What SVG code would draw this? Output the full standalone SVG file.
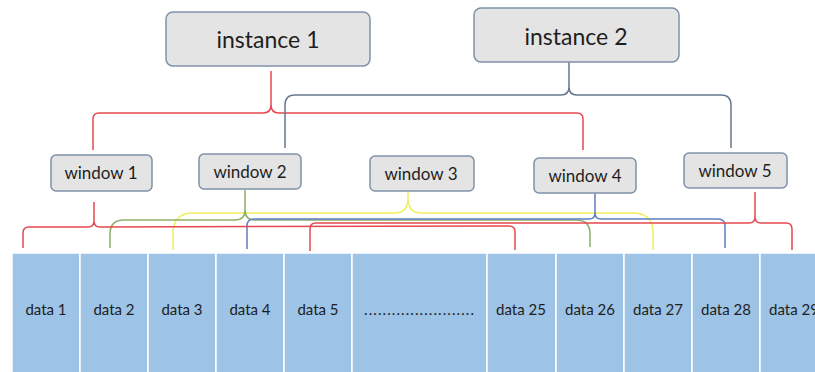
<svg xmlns="http://www.w3.org/2000/svg" width="815" height="372" viewBox="0 0 815 372">
<style>
.box{fill:#E4E4E4;stroke:#7F91A8;stroke-width:1.5}
.t{font-family:Lato,"Liberation Sans",sans-serif;fill:#1E1E1E;text-anchor:middle}
.ti{font-size:23px}
.tw{font-size:17px}
.td{font-size:15px}
.cell{fill:#9DC3E6;stroke:#FFFFFF;stroke-width:1.5}
.c{fill:none;stroke-width:1.5;stroke-linejoin:round}
.red{stroke:#E5484D}
.slate{stroke:#66788E}
.green{stroke:#8DAE6A}
.yellow{stroke:#F0F05A}
.blue{stroke:#5F7FC0}
</style>
<rect width="815" height="372" fill="#FFFFFF"/>
<g id="connectors">
<path class="c red" d="M93,150 L93,119 Q93,113 99,113 L263,113 Q271,113 271,105 L271,71 M271,105 Q271,113 279,113 L577,113 Q583,113 583,119 L583,150"/>
<path class="c slate" d="M285,148 L285,105 Q285,95 295,95 L561,95 Q569,95 569,87 L569,62 M569,87 Q569,95 577,95 L721,95 Q731,95 731,105 L731,148"/>
<path class="c yellow" d="M173,250 L173,233 Q173,213 193,213 L394,213 Q408,213 408,199 L408,191 M408,199 Q408,213 422,213 L633,213 Q653,213 653,233 L653,250"/>
<path class="c green" d="M110,248 L110,234 Q110,220 124,220 L235,220 Q245,220 245,210 L245,190 M245,210 Q245,220 255,220 L576,220 Q590,220 590,234 L590,247"/>
<path class="c blue" d="M247,249 L247,226 Q247,219 254,219 L589,219 Q595,219 595,213 L595,193 M595,213 Q595,219 601,219 L718,219 Q725,219 725,226 L725,248"/>
<path class="c red" d="M23,248 L23,233 Q23,227 29,227 L88,227 Q94,227 94,221 L94,202 M94,221 Q94,227 100,227 L509,226 Q515,226 515,232 L515,250"/>
<path class="c red" d="M310,251 L310,229 Q310,223 316,223 L749,223 Q755,223 755,217 L755,192 M755,217 Q755,223 761,223 L786,223 Q792,223 792,229 L792,250"/>
</g>
<g id="instance1"><rect class="box" x="166" y="12" width="204" height="54" rx="7"/><text class="t ti" x="268" y="48">instance 1</text></g>
<g id="instance2"><rect class="box" x="474" y="8" width="205" height="54" rx="7"/><text class="t ti" x="576" y="45">instance 2</text></g>
<g id="window1"><rect class="box" x="51" y="155" width="101" height="36" rx="5"/><text class="t tw" x="101" y="179">window 1</text></g>
<g id="window2"><rect class="box" x="199" y="154" width="102" height="35" rx="5"/><text class="t tw" x="250" y="178">window 2</text></g>
<g id="window3"><rect class="box" x="370" y="156" width="104" height="35" rx="5"/><text class="t tw" x="421" y="180">window 3</text></g>
<g id="window4"><rect class="box" x="534" y="158" width="102" height="35" rx="5"/><text class="t tw" x="585" y="182">window 4</text></g>
<g id="window5"><rect class="box" x="684" y="153" width="103" height="35" rx="5"/><text class="t tw" x="735" y="177">window 5</text></g>
<g id="data1"><rect class="cell" x="12" y="253" width="68" height="122"/><text class="t td" x="46" y="315">data 1</text></g>
<g id="data2"><rect class="cell" x="80" y="253" width="68" height="122"/><text class="t td" x="114" y="315">data 2</text></g>
<g id="data3"><rect class="cell" x="148" y="253" width="68" height="122"/><text class="t td" x="182" y="315">data 3</text></g>
<g id="data4"><rect class="cell" x="216" y="253" width="68" height="122"/><text class="t td" x="250" y="315">data 4</text></g>
<g id="data5"><rect class="cell" x="284" y="253" width="68" height="122"/><text class="t td" x="318" y="315">data 5</text></g>
<g id="ellipsis"><rect class="cell" x="352" y="253" width="135" height="122"/><text class="t td" x="419" y="315" textLength="110" lengthAdjust="spacing">........................</text></g>
<g id="data25"><rect class="cell" x="487" y="253" width="69" height="122"/><text class="t td" x="521" y="315">data 25</text></g>
<g id="data26"><rect class="cell" x="556" y="253" width="68" height="122"/><text class="t td" x="590" y="315">data 26</text></g>
<g id="data27"><rect class="cell" x="624" y="253" width="68" height="122"/><text class="t td" x="658" y="315">data 27</text></g>
<g id="data28"><rect class="cell" x="692" y="253" width="68" height="122"/><text class="t td" x="726" y="315">data 28</text></g>
<g id="data29"><rect class="cell" x="760" y="253" width="70" height="122"/><text class="t td" x="794" y="315">data 29</text></g>
</svg>
